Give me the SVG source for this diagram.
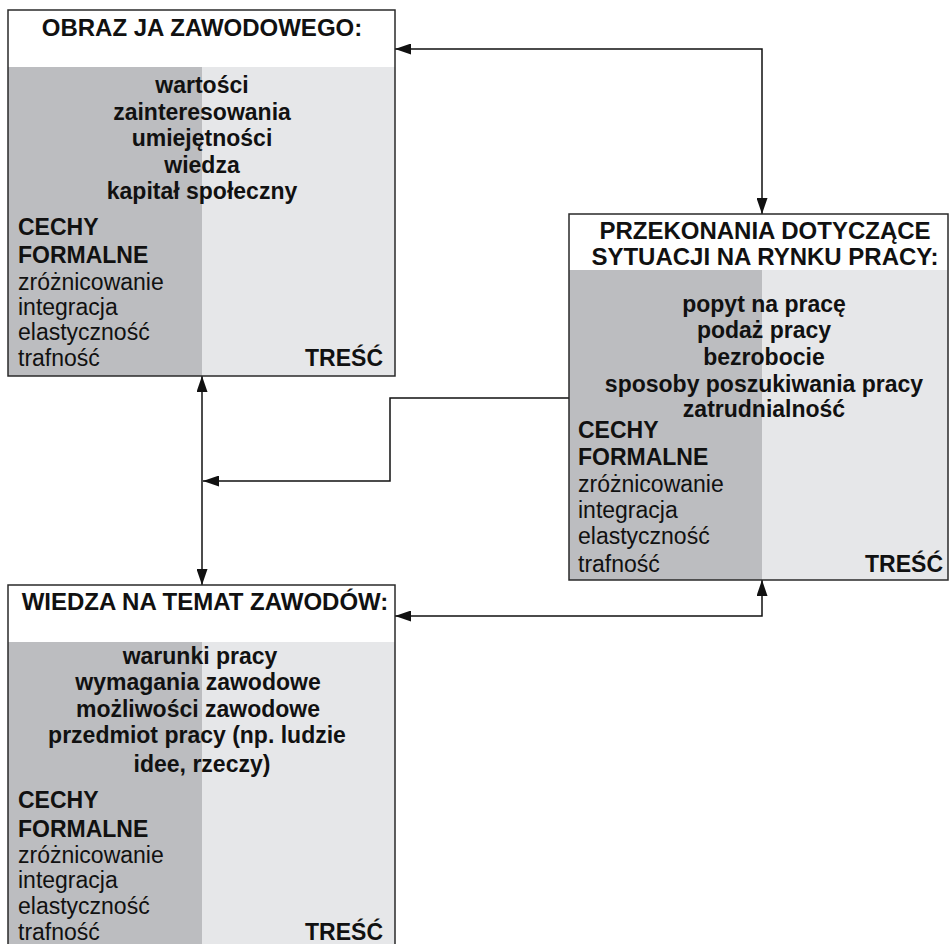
<svg xmlns="http://www.w3.org/2000/svg" width="949" height="944" viewBox="0 0 949 944">
<defs>
<style>
text{font-family:"Liberation Sans",Arial,Helvetica,sans-serif;fill:#111;font-size:23px}
.b{font-weight:bold}
.c{text-anchor:middle}
.r{text-anchor:end}
.t{font-size:24px}
.hdr{fill:#fff}
.dk{fill:#bcbdc0}
.lt{fill:#e6e7e9}
.frame{fill:none;stroke:#2a2a2a;stroke-width:1.5}
.con{fill:none;stroke:#111;stroke-width:1.5;marker-start:url(#ah);marker-end:url(#ah)}
.con1{fill:none;stroke:#111;stroke-width:1.5;marker-end:url(#ah)}
</style>
<marker id="ah" viewBox="0 0 16 11" refX="16" refY="5.5" markerWidth="16" markerHeight="11" markerUnits="userSpaceOnUse" orient="auto-start-reverse">
<path d="M0,0 L16,5.5 L0,11 Z" fill="#111"/>
</marker>
</defs>
<rect width="949" height="944" fill="#fff"/>

<g id="connectors">
<path class="con" d="M395,49 H762 V214"/>
<path class="con" d="M202,376 V585"/>
<path class="con1" d="M569,398 H390 V481 H203"/>
<path class="con" d="M762,580 V616 H395"/>
</g>

<g id="obraz">
<rect class="hdr" x="8" y="10" width="387" height="57"/>
<rect class="dk" x="8" y="67" width="194" height="309"/>
<rect class="lt" x="202" y="67" width="193" height="309"/>
<rect class="frame" x="8" y="10" width="387" height="366"/>
<text class="b c t" x="202" y="36">OBRAZ JA ZAWODOWEGO:</text>
<text class="b c" x="202" y="93">wartości</text>
<text class="b c" x="202" y="119.5">zainteresowania</text>
<text class="b c" x="202" y="146">umiejętności</text>
<text class="b c" x="202" y="172.5">wiedza</text>
<text class="b c" x="202" y="199">kapitał społeczny</text>
<text class="b" x="18" y="235">CECHY</text>
<text class="b" x="18" y="263">FORMALNE</text>
<text x="18" y="290">zróżnicowanie</text>
<text x="18" y="315">integracja</text>
<text x="18" y="340">elastyczność</text>
<text x="18" y="365.5">trafność</text>
<text class="b r" x="383" y="365.5">TREŚĆ</text>
</g>

<g id="przekonania">
<rect class="hdr" x="569" y="214" width="379" height="56"/>
<rect class="dk" x="569" y="270" width="193" height="310"/>
<rect class="lt" x="762" y="270" width="186" height="310"/>
<rect class="frame" x="569" y="214" width="379" height="366"/>
<text class="b c t" x="765" y="238.5">PRZEKONANIA DOTYCZĄCE</text>
<text class="b c t" x="765" y="265">SYTUACJI NA RYNKU PRACY:</text>
<text class="b c" x="764" y="311.5">popyt na pracę</text>
<text class="b c" x="764" y="338">podaż pracy</text>
<text class="b c" x="764" y="365">bezrobocie</text>
<text class="b c" x="764" y="391.5">sposoby poszukiwania pracy</text>
<text class="b c" x="764" y="416.5">zatrudnialność</text>
<text class="b" x="578" y="438">CECHY</text>
<text class="b" x="578" y="465">FORMALNE</text>
<text x="578" y="491.5">zróżnicowanie</text>
<text x="578" y="517.5">integracja</text>
<text x="578" y="543.5">elastyczność</text>
<text x="578" y="571.5">trafność</text>
<text class="b r" x="943" y="571.5">TREŚĆ</text>
</g>

<g id="wiedza">
<rect class="hdr" x="8" y="585" width="387" height="57"/>
<rect class="dk" x="8" y="642" width="194" height="310"/>
<rect class="lt" x="202" y="642" width="193" height="310"/>
<rect class="frame" x="8" y="585" width="387" height="370"/>
<text class="b c t" x="205" y="610">WIEDZA NA TEMAT ZAWODÓW:</text>
<text class="b c" x="200" y="664">warunki pracy</text>
<text class="b c" x="198" y="690">wymagania zawodowe</text>
<text class="b c" x="198" y="716.5">możliwości zawodowe</text>
<text class="b c" x="197" y="743">przedmiot pracy (np. ludzie</text>
<text class="b c" x="202" y="771.5">idee, rzeczy)</text>
<text class="b" x="18" y="808">CECHY</text>
<text class="b" x="18" y="837">FORMALNE</text>
<text x="18" y="863">zróżnicowanie</text>
<text x="18" y="888">integracja</text>
<text x="18" y="913.5">elastyczność</text>
<text x="18" y="940">trafność</text>
<text class="b r" x="383" y="940">TREŚĆ</text>
</g>
</svg>
